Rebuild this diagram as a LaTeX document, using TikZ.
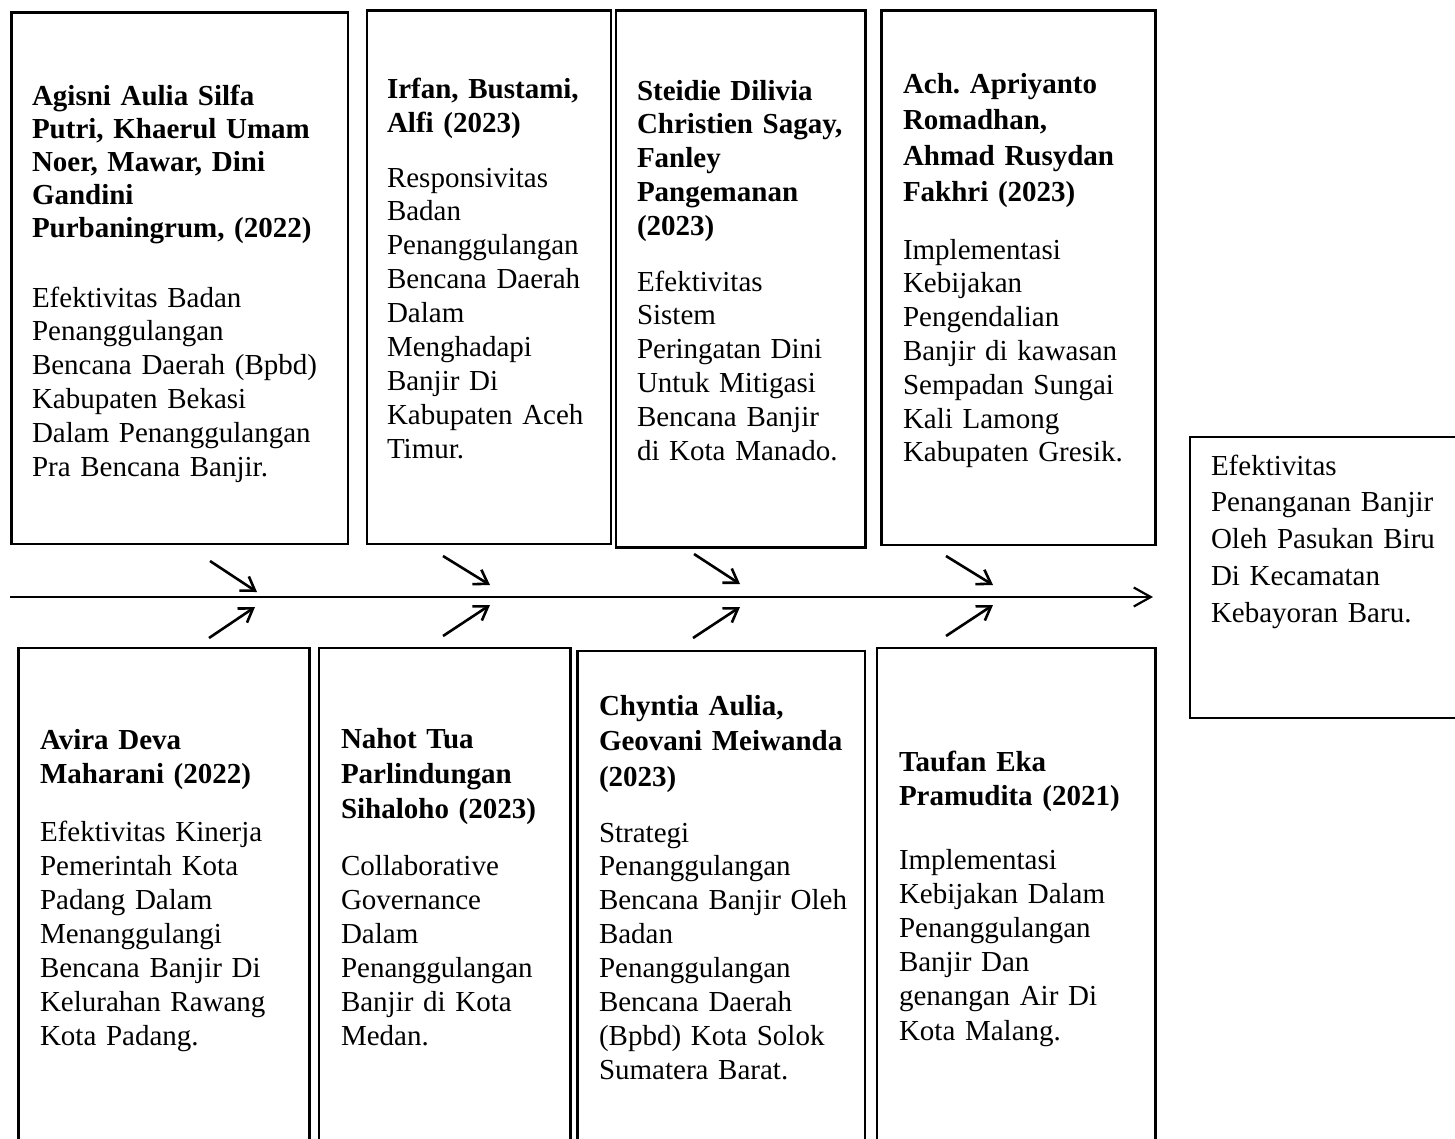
\documentclass[tikz,border=0pt]{standalone}
\usepackage{fontspec}
\setmainfont{Liberation Serif}
\usetikzlibrary{arrows.meta}
\frenchspacing
\begin{document}
\begin{tikzpicture}[x=1pt,y=-1pt,
  box/.style={draw, line width=2.6pt, inner sep=0pt, outer sep=0pt, anchor=north west},
  ttl/.style={anchor=base west, inner sep=0pt, outer sep=0pt, align=left, text width=340pt, font={\fontsize{29}{#1}\selectfont\bfseries\frenchspacing}},
  ttl/.default=33.8,
  bdy/.style={anchor=base west, inner sep=0pt, outer sep=0pt, align=left, text width=340pt, font={\fontsize{29}{#1}\selectfont\frenchspacing}},
  bdy/.default=33.8,
  mainarrow/.style={line width=2.2pt, -{Straight Barb[length=17pt,width=19pt,line width=2.2pt]}},
  smallarrow/.style={line width=2.6pt, -{Straight Barb[length=13pt,width=17pt,line width=2.6pt]}}
]
\useasboundingbox (0,0) rectangle (1455,1138);

% boxes
\node[box, minimum width=336.5pt, minimum height=531.5pt] (t1) at (11.5,12.5) {};
\node[box, minimum width=244pt, minimum height=533.5pt] (t2) at (367,10.5) {};
\node[box, minimum width=249.5pt, minimum height=537pt] (t3) at (616,10.5) {};
\node[box, minimum width=274pt, minimum height=534.5pt] (t4) at (881.5,10.5) {};
\node[box, minimum width=291pt, minimum height=512pt] (b1) at (18.5,648) {};
\node[box, minimum width=251.5pt, minimum height=512pt] (b2) at (319,648) {};
\node[box, minimum width=287.5pt, minimum height=509pt] (b3) at (577.5,651) {};
\node[box, minimum width=278.5pt, minimum height=512pt] (b4) at (877,648) {};
\node[box, minimum width=290pt, minimum height=281pt] (r) at (1190,437) {};

% top texts
\node[ttl=33] (t1h) at (32,105) {Agisni Aulia Silfa\\Putri, Khaerul Umam\\Noer, Mawar, Dini\\Gandini\\Purbaningrum, (2022)};
\node[bdy] (t1b) at (32,307) {Efektivitas Badan\\Penanggulangan\\Bencana Daerah (Bpbd)\\Kabupaten Bekasi\\Dalam Penanggulangan\\Pra Bencana Banjir.};

\node[ttl=34] (t2h) at (387,98) {Irfan, Bustami,\\Alfi (2023)};
\node[bdy=33.9] (t2b) at (387,187) {Responsivitas\\Badan\\Penanggulangan\\Bencana Daerah\\Dalam\\Menghadapi\\Banjir Di\\Kabupaten Aceh\\Timur.};

\node[ttl=33.75] (t3h) at (637,100) {Steidie Dilivia\\Christien Sagay,\\Fanley\\Pangemanan\\(2023)};
\node[bdy] (t3b) at (637,291) {Efektivitas\\Sistem\\Peringatan Dini\\Untuk Mitigasi\\Bencana Banjir\\di Kota Manado.};

\node[ttl=36.3] (t4h) at (903,93) {Ach. Apriyanto\\Romadhan,\\Ahmad Rusydan\\Fakhri (2023)};
\node[bdy] (t4b) at (903,259) {Implementasi\\Kebijakan\\Pengendalian\\Banjir di kawasan\\Sempadan Sungai\\Kali Lamong\\Kabupaten Gresik.};

% right text
\node[bdy=36.75] (rb) at (1211,475) {Efektivitas\\Penanganan Banjir\\Oleh Pasukan Biru\\Di Kecamatan\\Kebayoran Baru.};

% bottom texts
\node[ttl=34] (b1h) at (40,749) {Avira Deva\\Maharani (2022)};
\node[bdy=34] (b1b) at (40,841) {Efektivitas Kinerja\\Pemerintah Kota\\Padang Dalam\\Menanggulangi\\Bencana Banjir Di\\Kelurahan Rawang\\Kota Padang.};

\node[ttl=35] (b2h) at (341,748) {Nahot Tua\\Parlindungan\\Sihaloho (2023)};
\node[bdy=34] (b2b) at (341,875) {Collaborative\\Governance\\Dalam\\Penanggulangan\\Banjir di Kota\\Medan.};

\node[ttl=35.5] (b3h) at (599,715) {Chyntia Aulia,\\Geovani Meiwanda\\(2023)};
\node[bdy=33.9] (b3b) at (599,842) {Strategi\\Penanggulangan\\Bencana Banjir Oleh\\Badan\\Penanggulangan\\Bencana Daerah\\(Bpbd) Kota Solok\\Sumatera Barat.};

\node[ttl=34] (b4h) at (899,771) {Taufan Eka\\Pramudita (2021)};
\node[bdy=34.2] (b4b) at (899,869) {Implementasi\\Kebijakan Dalam\\Penanggulangan\\Banjir Dan\\genangan Air Di\\Kota Malang.};

% main arrow
\coordinate (ms) at (10,597);
\coordinate (me) at (1153,597);
\draw[mainarrow] (ms) -- (me);

% small arrows
\coordinate (a1s) at (210,561); \coordinate (a1e) at (257,592);
\coordinate (c1s) at (209,638); \coordinate (c1e) at (255,607);
\coordinate (a2s) at (443,556); \coordinate (a2e) at (490,585);
\coordinate (c2s) at (443,636); \coordinate (c2e) at (490,605);
\coordinate (a3s) at (694,554); \coordinate (a3e) at (740,584);
\coordinate (c3s) at (693,638); \coordinate (c3e) at (740,607);
\coordinate (a4s) at (946,556); \coordinate (a4e) at (993,585);
\coordinate (c4s) at (946,636); \coordinate (c4e) at (993,605);
\foreach \i in {1,2,3,4}{
  \draw[smallarrow] (a\i s) -- (a\i e);
  \draw[smallarrow] (c\i s) -- (c\i e);
}
\end{tikzpicture}
\end{document}
